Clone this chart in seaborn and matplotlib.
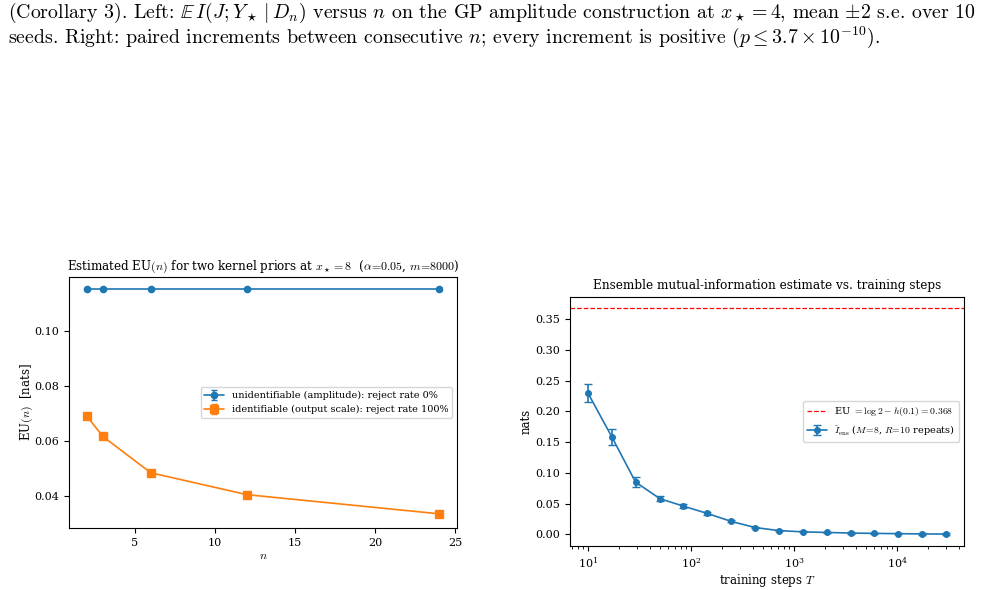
import numpy as np
import matplotlib
matplotlib.use("Agg")
import matplotlib.pyplot as plt
import seaborn as sns

# left panel: EU(n) for two kernel priors
n_vals = [2, 3, 6, 12, 24]
eu_amplitude = [0.1154, 0.1154, 0.1154, 0.1154, 0.1154]
err_amplitude = [0.0003, 0.0003, 0.0003, 0.0003, 0.0003]
eu_scale = [0.0692, 0.0617, 0.0484, 0.0404, 0.0334]
err_scale = [0.0010, 0.0008, 0.0005, 0.0005, 0.0010]

# right panel: ensemble MI estimate vs training steps
steps = [10, 17, 29, 50, 84, 144, 246, 420, 716, 1220, 2080, 3550, 6050, 10300, 17600, 30000]
mi_mean = [0.230, 0.159, 0.085, 0.058, 0.046, 0.034, 0.021, 0.011, 0.006, 0.004,
           0.003, 0.002, 0.0015, 0.001, 0.0006, 0.0004]
mi_err = [0.014, 0.013, 0.008, 0.004, 0.003, 0.002, 0.0015, 0.0015, 0.001, 0.001,
          0.001, 0.001, 0.001, 0.001, 0.001, 0.001]
eu_bound = 0.368

sns.set_theme(style="ticks", palette="tab10", rc={
    "axes.linewidth": 0.8,
    "axes.edgecolor": "black",
    "axes.labelpad": 4.0,
    "xtick.major.size": 3.5, "ytick.major.size": 3.5,
    "xtick.minor.size": 2.0, "ytick.minor.size": 2.0,
    "xtick.major.width": 0.8, "ytick.major.width": 0.8,
    "xtick.minor.width": 0.6, "ytick.minor.width": 0.6,
    "xtick.major.pad": 3.5, "ytick.major.pad": 3.5,
    "xtick.color": "black", "ytick.color": "black",
    "text.color": "black", "axes.labelcolor": "black",
    "legend.fancybox": True, "legend.edgecolor": "0.8",
})
plt.rcParams["font.family"] = ["DejaVu Serif"]
plt.rcParams["mathtext.fontset"] = "cm"

pal = sns.color_palette("tab10")

fig = plt.figure(figsize=(9.83, 5.90), dpi=100)

caption1 = (r"(Corollary 3). Left: $\mathbb{E}\,I(J;Y_\star\mid D_n)$ versus $n$ on the GP amplitude "
            r"construction at $x_\star=4$, mean $\pm2$ s.e. over 10")
caption2 = (r"seeds. Right: paired increments between consecutive $n$; every increment is positive "
            r"$(p\leq3.7\times10^{-10})$.")
fig.text(0.008, 0.970, caption1, family="cmr10", fontsize=14.3, va="baseline")
fig.text(0.008, 0.928, caption2, family="cmr10", fontsize=14.3, va="baseline")

ax1 = fig.add_axes([0.0702, 0.1051, 0.3947, 0.4254])
ax1.errorbar(n_vals, eu_amplitude, yerr=err_amplitude, fmt="-o", color=pal[0], ms=4.5, lw=1.2,
             capsize=2, label="unidentifiable (amplitude): reject rate 0%")
ax1.errorbar(n_vals, eu_scale, yerr=err_scale, fmt="-s", color=pal[1], ms=5.5, lw=1.2,
             capsize=2.5, label="identifiable (output scale): reject rate 100%")
ax1.set_title(r"Estimated EU$(n)$ for two kernel priors at $x_\star=8$  ($\alpha\!=\!0.05$, $m\!=\!8000$)",
              fontsize=8.6, pad=5)
ax1.set_xlabel(r"$n$", fontsize=8.5, labelpad=1)
ax1.set_ylabel(r"EU$(n)$  [nats]", fontsize=8.5)
ax1.yaxis.set_label_coords(-0.088, 0.5)
ax1.set_xticks([5, 10, 15, 20, 25])
ax1.set_yticks([0.04, 0.06, 0.08, 0.10])
ax1.tick_params(labelsize=8)
ax1.legend(loc="center right", fontsize=7, frameon=True)

ax2 = fig.add_axes([0.5799, 0.0746, 0.4008, 0.422])
ax2.axhline(eu_bound, color="red", ls="--", lw=0.9,
            label=r"EU $=\log2-h(0.1)=0.368$")
ax2.errorbar(steps, mi_mean, yerr=mi_err, fmt="-o", color=pal[0], ms=4, lw=1.2, capsize=3,
             label=r"$\hat{I}_{\rm ens}$ ($M\!=\!8$, $R\!=\!10$ repeats)")
ax2.set_xscale("log")
ax2.set_title("Ensemble mutual-information estimate vs. training steps", fontsize=8.7, pad=6)
ax2.set_xlabel(r"training steps $T$", fontsize=8.5, labelpad=1)
ax2.set_ylabel("nats", fontsize=8.5)
ax2.yaxis.set_label_coords(-0.095, 0.5)
ax2.set_yticks(np.arange(0, 0.36, 0.05))
ax2.tick_params(labelsize=8)
ax2.legend(loc="center right", fontsize=7, frameon=True)

fig.savefig("out.png", dpi=100)
